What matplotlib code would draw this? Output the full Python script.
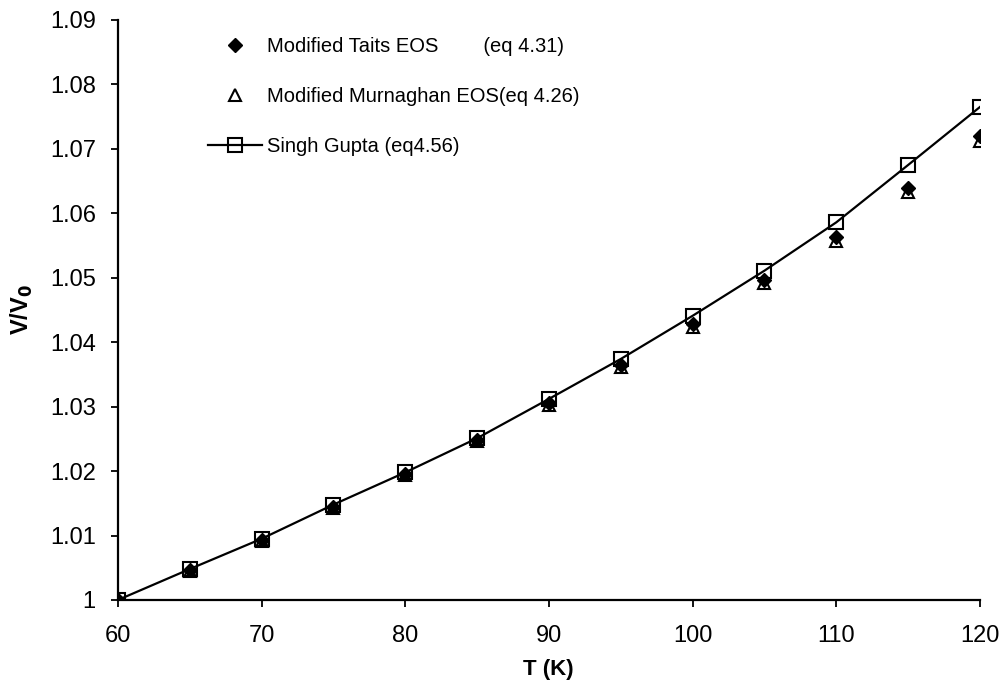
import matplotlib
matplotlib.use('Agg')
import matplotlib.pyplot as plt
from matplotlib.ticker import FuncFormatter

plt.rcParams['font.family'] = ['Liberation Sans', 'DejaVu Sans']

# Temperature (K)
temps = [60, 65, 70, 75, 80, 85, 90, 95, 100, 105, 110, 115, 120]

# V/V0
taits = [1.0, 1.0046, 1.0093, 1.0144, 1.0195, 1.0248, 1.0305, 1.0365,
         1.0428, 1.0497, 1.0563, 1.0640, 1.0720]
murnaghan = [1.0, 1.0045, 1.0092, 1.0143, 1.0194, 1.0247, 1.0303, 1.0362,
             1.0424, 1.0492, 1.0557, 1.0633, 1.0712]
singh_gupta = [1.0, 1.0048, 1.0095, 1.0148, 1.0198, 1.0251, 1.0312, 1.0374,
               1.0441, 1.0511, 1.0586, 1.0675, 1.0765]

fig = plt.figure(figsize=(10.05, 6.96), dpi=100)
ax = fig.add_axes([0.1174, 0.138, 0.8577, 0.8333])

ax.plot(temps, taits, linestyle='none', marker='D', markersize=7,
        color='black', label='Modified Taits EOS        (eq 4.31)', zorder=3)
ax.plot(temps, murnaghan, linestyle='none', marker='^', markersize=8,
        markerfacecolor='none', markeredgecolor='black', markeredgewidth=1.5,
        label='Modified Murnaghan EOS(eq 4.26)', zorder=3)
ax.plot(temps, singh_gupta, color='black', linewidth=1.6, marker='s',
        markersize=10, markerfacecolor='none', markeredgecolor='black',
        markeredgewidth=1.5, label='Singh Gupta (eq4.56)', zorder=4)

ax.set_xlim(60, 120)
ax.set_ylim(1.0, 1.09)
ax.set_xticks(range(60, 121, 10))
ax.set_yticks([1 + 0.01 * i for i in range(10)])
ax.yaxis.set_major_formatter(FuncFormatter(lambda v, p: '%g' % round(v, 2)))

ax.spines['top'].set_visible(False)
ax.spines['right'].set_visible(False)
ax.spines['left'].set_linewidth(1.6)
ax.spines['bottom'].set_linewidth(1.6)
ax.tick_params(direction='out', length=5, width=1.3, labelsize=17)
ax.tick_params(axis='x', pad=13)
ax.tick_params(axis='y', pad=11)

ax.set_xlabel('T (K)', fontsize=16, fontweight='bold')
ax.set_ylabel('V/V$_\\mathbf{0}$', fontsize=17, fontweight='bold')
ax.xaxis.set_label_coords(0.499, -0.102)
ax.yaxis.set_label_coords(-0.096, 0.5)

ax.legend(loc='upper left', bbox_to_anchor=(0.104, 0.971), frameon=False,
          fontsize=14.5, handlelength=2.7, handletextpad=0.25,
          borderpad=0, borderaxespad=0, labelspacing=1.54, numpoints=1)

fig.savefig('out.png', dpi=100)
